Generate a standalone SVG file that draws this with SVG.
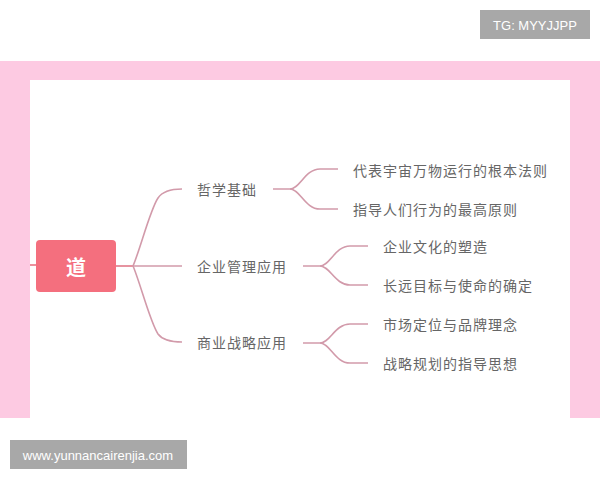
<svg xmlns="http://www.w3.org/2000/svg" width="600" height="480" viewBox="0 0 600 480">
<style>
.lbl{font-family:"Noto Sans CJK SC","Noto Sans",sans-serif;font-size:14px;fill:#666;letter-spacing:1px;dominant-baseline:central}
.br{fill:none;stroke:#d29aaa;stroke-width:1.6}
.wm{font-family:"Liberation Sans",Arial,sans-serif;font-size:13px;fill:#fff;dominant-baseline:central}
</style>
<rect width="600" height="480" fill="#fff"/>
<rect x="0" y="61" width="600" height="357" fill="#fdcae2"/>
<rect x="30" y="80" width="540" height="338" fill="#fff"/>
<g id="wm-tg"><rect x="480" y="10" width="110" height="29" fill="#a8a8a8"/><text class="wm" x="535" y="25" text-anchor="middle">TG: MYYJJPP</text></g>
<g id="wm-site"><rect x="10" y="440" width="177" height="29" fill="#a8a8a8"/><text class="wm" x="98" y="455" text-anchor="middle">www.yunnancairenjia.com</text></g>
<g id="connectors">
<path d="M30 265H36" stroke="#e87585" stroke-width="1.6" fill="none"/>
<path d="M116 266H133" stroke="#e07888" stroke-width="1.6" fill="none"/>
<path class="br" d="M133 266H182"/>
<path class="br" d="M133 266C140 250 150 210 158 198Q164 189 182 189"/>
<path class="br" d="M133 266C140 282 150 322 158 334Q164 342 182 342"/>
<path class="br" d="M273 189H290C300 189 305 169 320 169H338"/>
<path class="br" d="M290 189C300 189 305 209 320 209H338"/>
<path class="br" d="M303 266H320C330 266 335 246 350 246H368"/>
<path class="br" d="M320 266C330 266 335 285 350 285H368"/>
<path class="br" d="M303 343H320C330 343 335 324 350 324H368"/>
<path class="br" d="M320 343C330 343 335 363 350 363H368"/>
</g>
<g id="root"><rect x="36" y="240" width="80" height="52" rx="4" fill="#f46f7e"/><text x="76" y="266" text-anchor="middle" style="font-family:'Noto Sans CJK SC',sans-serif;font-size:20px;font-weight:bold;fill:#fff;dominant-baseline:central">道</text></g>
<g id="n1"><text class="lbl" x="197" y="189">哲学基础</text></g>
<g id="n2"><text class="lbl" x="197" y="266">企业管理应用</text></g>
<g id="n3"><text class="lbl" x="197" y="342">商业战略应用</text></g>
<g id="n1a"><text class="lbl" x="353" y="170">代表宇宙万物运行的根本法则</text></g>
<g id="n1b"><text class="lbl" x="353" y="209">指导人们行为的最高原则</text></g>
<g id="n2a"><text class="lbl" x="383" y="246">企业文化的塑造</text></g>
<g id="n2b"><text class="lbl" x="383" y="285">长远目标与使命的确定</text></g>
<g id="n3a"><text class="lbl" x="383" y="324">市场定位与品牌理念</text></g>
<g id="n3b"><text class="lbl" x="383" y="363">战略规划的指导思想</text></g>
</svg>
